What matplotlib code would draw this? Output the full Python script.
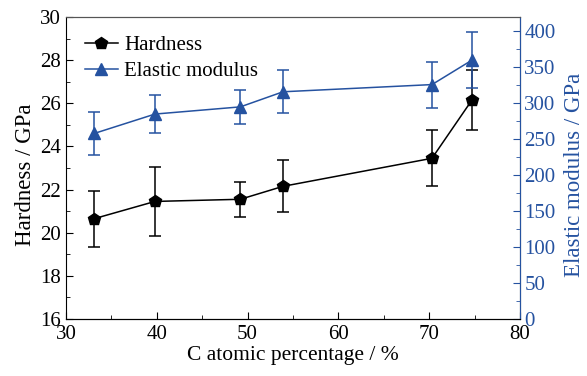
import numpy as np
import matplotlib.pyplot as plt
from matplotlib.ticker import MultipleLocator
from matplotlib.lines import Line2D

plt.rcParams['font.family'] = ['Liberation Serif', 'DejaVu Serif']
plt.rcParams['mathtext.fontset'] = 'stix'

# datos
c_pct = [33.1, 39.8, 49.2, 53.9, 70.3, 74.7]
dureza = [20.65, 21.45, 21.55, 22.15, 23.45, 26.15]
dureza_err = [1.3, 1.6, 0.8, 1.2, 1.3, 1.4]
modulo = [258, 285, 295, 316, 326, 360]
modulo_err = [30, 26, 24, 30, 32, 39]

azul = '#2552a0'

fig = plt.figure(figsize=(5.87, 3.76), dpi=100)
ax = fig.add_axes([0.1124, 0.1516, 0.7736, 0.8032])
ax2 = ax.twinx()

ax.errorbar(c_pct, dureza, yerr=dureza_err, color='black', marker='p', markersize=9,
            linewidth=1.1, elinewidth=1.1, capsize=4, capthick=1.1)
ax2.errorbar(c_pct, modulo, yerr=modulo_err, color=azul, marker='^', markersize=8.5,
             linewidth=1.1, elinewidth=1.1, capsize=4, capthick=1.1)

ax.set_xlim(30, 80)
ax.set_ylim(16, 30)
ax2.set_ylim(0, 420)

ax.xaxis.set_major_locator(MultipleLocator(10))
ax.xaxis.set_minor_locator(MultipleLocator(5))
ax.yaxis.set_major_locator(MultipleLocator(2))
ax.yaxis.set_minor_locator(MultipleLocator(1))
ax2.yaxis.set_major_locator(MultipleLocator(50))
ax2.yaxis.set_minor_locator(MultipleLocator(25))

ax.tick_params(which='both', direction='in', labelsize=15, top=False)
ax.tick_params(which='major', length=5)
ax.tick_params(which='minor', length=3)
ax.tick_params(axis='x', pad=4)
ax2.tick_params(which='both', direction='in', labelsize=15, colors=azul, pad=3)
ax2.tick_params(which='major', length=5)
ax2.tick_params(which='minor', length=3)

for a in (ax, ax2):
    a.spines['top'].set_color('#555555')
ax2.spines['right'].set_color(azul)
ax2.spines['left'].set_visible(False)

ax.set_xlabel('C atomic percentage / %', fontsize=15.5, labelpad=2)
ax.set_ylabel('Hardness / GPa', fontsize=16.5, labelpad=3)
ax2.set_ylabel('Elastic modulus / GPa', fontsize=16.5, color=azul, labelpad=6)
ax.yaxis.label.set_y(0.477)
ax2.yaxis.label.set_y(0.477)

h1 = Line2D([], [], color='black', marker='p', markersize=9, linewidth=1.1)
h2 = Line2D([], [], color=azul, marker='^', markersize=8.5, linewidth=1.1)
ax.legend([h1, h2], ['Hardness', 'Elastic modulus'], loc='upper left', frameon=False,
          fontsize=15, handlelength=1.6, handletextpad=0.3, borderaxespad=0.5,
          labelspacing=0.3)

fig.savefig('out.png', dpi=100)
